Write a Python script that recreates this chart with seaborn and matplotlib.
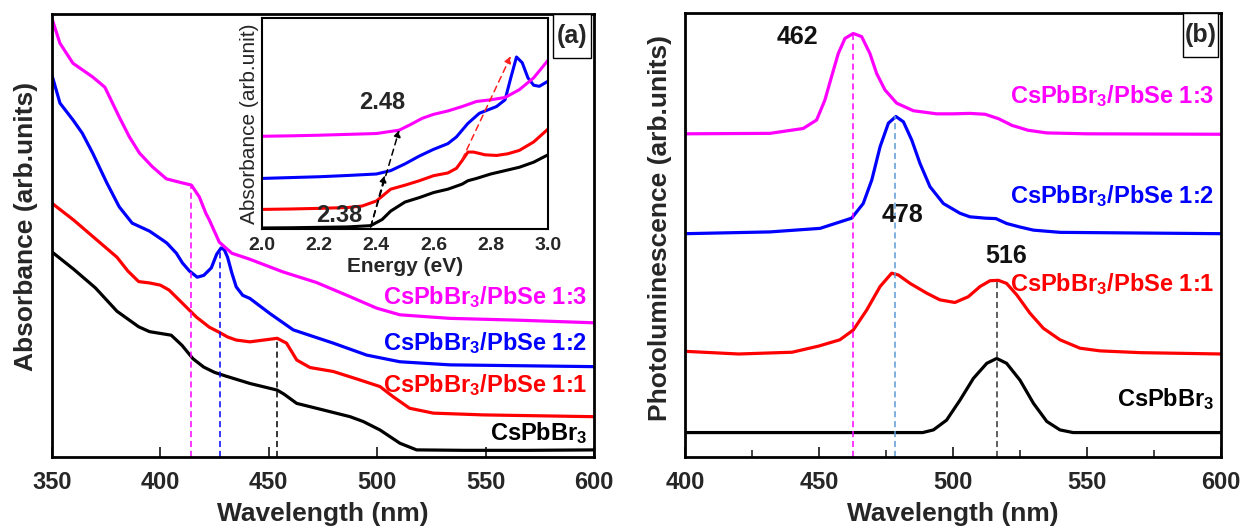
import numpy as np
import pandas as pd
import matplotlib
matplotlib.use("Agg")
import matplotlib.pyplot as plt
from matplotlib.patches import Rectangle
import seaborn as sns

# ---------------- data: panel (a) absorbance (normalised units) ----------------
abs_cs_wl = [350, 360, 370, 380, 390, 395, 400, 405, 410, 415, 420, 425, 430, 441.3, 453.9, 457,
             462.9, 472, 487.5, 493.6, 501.3, 510.5, 518.2, 540, 570, 600]
abs_cs = [0.463, 0.424, 0.382, 0.329, 0.294, 0.283, 0.279, 0.275, 0.252, 0.222, 0.203, 0.191, 0.183,
          0.166, 0.151, 0.142, 0.121, 0.110, 0.091, 0.080, 0.061, 0.031, 0.016, 0.015, 0.015, 0.016]

abs_11_wl = [350, 360, 370, 380, 385, 390, 395, 400, 404, 410, 416.6, 422.6, 427, 431, 435, 441.3,
             453.9, 458.2, 462.9, 469, 479.8, 492, 501.3, 507.4, 515, 525.9, 549, 600]
abs_11 = [0.573, 0.535, 0.493, 0.451, 0.420, 0.396, 0.393, 0.388, 0.377, 0.348, 0.316, 0.293, 0.282,
          0.271, 0.264, 0.260, 0.268, 0.257, 0.219, 0.202, 0.193, 0.174, 0.159, 0.136, 0.110, 0.099,
          0.095, 0.091]

abs_12_wl = [350, 353.7, 359.7, 364, 368.8, 375.3, 381, 387, 395, 401, 403, 407.4, 410.2, 413.4, 417,
             420, 423.5, 426, 428, 429.5, 431, 433, 435, 438, 441.3, 450.5, 461.3, 479.8, 495.2, 510.5,
             533.6, 600]
abs_12 = [0.862, 0.799, 0.761, 0.731, 0.686, 0.619, 0.565, 0.528, 0.510, 0.490, 0.483, 0.460, 0.438,
          0.420, 0.406, 0.410, 0.427, 0.458, 0.472, 0.468, 0.451, 0.415, 0.384, 0.365, 0.358, 0.324,
          0.287, 0.257, 0.230, 0.215, 0.208, 0.204]

abs_13_wl = [350, 353.7, 359.7, 368.8, 374.4, 381, 385.8, 390.4, 396.4, 402.8, 410, 414.3, 418, 421,
             422.6, 427.2, 433, 441, 456.5, 472, 487.5, 499.8, 510.5, 533.6, 564.3, 600]
abs_13 = [0.990, 0.934, 0.889, 0.858, 0.835, 0.768, 0.722, 0.686, 0.655, 0.628, 0.619, 0.614, 0.587,
          0.550, 0.535, 0.485, 0.460, 0.447, 0.418, 0.394, 0.362, 0.336, 0.321, 0.313, 0.309, 0.303]

abs_marks_wl = [414.3, 427.5, 453.9]          # dashed guide positions
abs_marks_top = [0.614, 0.472, 0.268]

# ---------------- data: inset (absorbance vs energy) ----------------
in_cs_e = [2.0, 2.1, 2.2, 2.3, 2.38, 2.42, 2.45, 2.5, 2.55, 2.6, 2.65, 2.7, 2.72, 2.75, 2.8, 2.85, 2.9, 2.95, 3.0]
in_cs = [0.005, 0.006, 0.008, 0.010, 0.016, 0.045, 0.085, 0.128, 0.149, 0.173, 0.189, 0.213, 0.229,
         0.240, 0.261, 0.277, 0.293, 0.317, 0.352]
in_11_e = [2.0, 2.1, 2.2, 2.3, 2.35, 2.4, 2.45, 2.5, 2.55, 2.6, 2.65, 2.68, 2.7, 2.72, 2.74, 2.78,
           2.82, 2.86, 2.9, 2.95, 3.0]
in_11 = [0.093, 0.095, 0.098, 0.102, 0.109, 0.133, 0.189, 0.208, 0.229, 0.253, 0.266, 0.288, 0.325,
         0.365, 0.365, 0.352, 0.349, 0.357, 0.373, 0.413, 0.474]
in_12_e = [2.0, 2.1, 2.2, 2.3, 2.4, 2.45, 2.5, 2.55, 2.6, 2.65, 2.68, 2.72, 2.76, 2.82, 2.85, 2.87,
           2.89, 2.91, 2.93, 2.95, 2.97, 3.0]
in_12 = [0.240, 0.244, 0.248, 0.254, 0.261, 0.277, 0.309, 0.346, 0.378, 0.405, 0.437, 0.501, 0.549,
         0.581, 0.613, 0.717, 0.816, 0.789, 0.717, 0.682, 0.677, 0.701]
in_13_e = [2.0, 2.1, 2.2, 2.3, 2.4, 2.48, 2.52, 2.56, 2.6, 2.65, 2.7, 2.75, 2.8, 2.85, 2.9, 2.95, 3.0]
in_13 = [0.440, 0.442, 0.445, 0.449, 0.453, 0.469, 0.496, 0.525, 0.544, 0.560, 0.581, 0.605, 0.613,
         0.624, 0.661, 0.717, 0.800]

# ---------------- data: panel (b) photoluminescence ----------------
pl_cs_wl = [400, 470, 488.7, 492.7, 497.6, 502.6, 507.6, 512.6, 516.3, 520, 525, 530, 535, 539.9,
            544.8, 600]
pl_cs = [0.055, 0.055, 0.055, 0.061, 0.083, 0.128, 0.177, 0.211, 0.222, 0.211, 0.173, 0.121, 0.080,
         0.061, 0.055, 0.055]

pl_11_wl = [400, 420, 440, 450, 457.8, 462.8, 467.8, 472.8, 477.1, 479.6, 484, 490.2, 495.1, 500.7,
            505.7, 510.1, 513.8, 516.9, 520, 523.8, 528.7, 533.7, 539.9, 547.4, 554.9, 570, 600]
pl_11 = [0.238, 0.232, 0.236, 0.250, 0.264, 0.286, 0.331, 0.384, 0.414, 0.410, 0.391, 0.369, 0.354,
         0.348, 0.361, 0.384, 0.397, 0.398, 0.391, 0.365, 0.324, 0.290, 0.264, 0.245, 0.239, 0.235,
         0.232]

pl_12_wl = [400, 431.7, 450.4, 462.2, 466.5, 469.7, 472.8, 475.9, 478.7, 481.5, 484.6, 487.7, 491.4,
            496.4, 502.6, 506.3, 512, 516, 520, 525, 530, 540, 600]
pl_12 = [0.503, 0.507, 0.515, 0.538, 0.571, 0.624, 0.699, 0.752, 0.767, 0.755, 0.714, 0.661, 0.609,
         0.571, 0.549, 0.541, 0.538, 0.537, 0.526, 0.518, 0.511, 0.506, 0.503]

pl_13_wl = [400, 431.7, 444.1, 449.1, 452.2, 454.7, 457.2, 459.7, 462.8, 465.9, 469, 471.5, 474.6, 479,
            485.2, 493.9, 500, 506.3, 512, 517, 522, 528, 535, 550, 600]
pl_13 = [0.728, 0.729, 0.740, 0.759, 0.804, 0.857, 0.909, 0.943, 0.954, 0.947, 0.909, 0.864, 0.827,
         0.797, 0.780, 0.773, 0.773, 0.774, 0.772, 0.762, 0.747, 0.736, 0.730, 0.728, 0.727]

pl_marks_wl = [462.6, 478.4, 516.5]
pl_marks_top = [0.954, 0.767, 0.398]
pl_peak_labels = ["462", "478", "516"]

series_names = ["CsPbBr$_3$", "CsPbBr$_3$/PbSe 1:1", "CsPbBr$_3$/PbSe 1:2", "CsPbBr$_3$/PbSe 1:3"]
series_colors = ["#000000", "#FF0000", "#0000FF", "#FF00FF"]

# ---------------- style ----------------
sns.set_style("white")
plt.rcParams["font.family"] = ["Liberation Sans", "DejaVu Sans"]
plt.rcParams["mathtext.fontset"] = "custom"
plt.rcParams["mathtext.rm"] = "Liberation Sans:bold"
plt.rcParams["mathtext.it"] = "Liberation Sans:bold"
plt.rcParams["mathtext.bf"] = "Liberation Sans:bold"
plt.rcParams["lines.solid_joinstyle"] = "round"
plt.rcParams["lines.solid_capstyle"] = "round"

fig = plt.figure(figsize=(12.4, 5.31), dpi=100)
axA = fig.add_axes([0.0419, 0.1394, 0.4371, 0.834])
axB = fig.add_axes([0.5524, 0.1394, 0.4323, 0.836])
axI = fig.add_axes([0.2113, 0.5687, 0.2306, 0.397])

LW = 2.3

def draw(ax, xs, ys, color, lw=LW):
    df = pd.DataFrame({"x": xs, "y": ys})
    sns.lineplot(data=df, x="x", y="y", ax=ax, color=color, lw=lw, sort=False,
                 estimator=None, legend=False)

def corner_box(ax, x0, y0, label):
    ax.add_patch(Rectangle((x0, y0), 0.995 - x0, 1.0 - y0, transform=ax.transAxes,
                           fc="white", ec="black", lw=1.0, zorder=5))
    ax.text((x0 + 0.995) / 2, (y0 + 1.0) / 2, label, transform=ax.transAxes, fontsize=18,
            fontweight="bold", ha="center", va="center", zorder=6)

# panel (a)
abs_sets = [(abs_cs_wl, abs_cs), (abs_11_wl, abs_11), (abs_12_wl, abs_12), (abs_13_wl, abs_13)]
for (xs, ys), c in zip(abs_sets, series_colors):
    draw(axA, xs, ys, c)
for wl, top, c in zip(abs_marks_wl, abs_marks_top, ["#FF00FF", "#0000FF", "#000000"]):
    axA.plot([wl, wl], [0, top], ls=(0, (4, 2.5)), color=c, lw=1.1)
axA.set_xlim(350, 600)
axA.set_ylim(0, 1)
axA.set_xticks([350, 400, 450, 500, 550, 600])
axA.set_yticks([])
axA.set_xlabel("Wavelength (nm)", fontsize=19, fontweight="bold", labelpad=6)
axA.set_ylabel("Absorbance (arb.units)", fontsize=19, fontweight="bold")
axA.yaxis.set_label_coords(-0.025, 0.52)
abs_label_y = [0.054, 0.163, 0.257, 0.362]
for name, c, y in zip(series_names, series_colors, abs_label_y):
    axA.text(597, y, name, color=c, fontsize=17, fontweight="bold", ha="right", va="center")
corner_box(axA, 0.925, 0.9, "(a)")

# inset
in_sets = [(in_cs_e, in_cs), (in_11_e, in_11), (in_12_e, in_12), (in_13_e, in_13)]
for (xs, ys), c in zip(in_sets, series_colors):
    draw(axI, xs, ys, c, lw=2.2)
axI.set_xlim(2.0, 3.0)
axI.set_ylim(0, 1)
axI.set_xticks([2.0, 2.2, 2.4, 2.6, 2.8, 3.0])
axI.set_xticklabels(["2.0", "2.2", "2.4", "2.6", "2.8", "3.0"])
axI.set_yticks([])
axI.set_xlabel("Energy (eV)", fontsize=15, fontweight="bold", labelpad=2)
axI.set_ylabel("Absorbance (arb.unit)", fontsize=15, labelpad=2)
axI.annotate("", xy=(2.48, 0.47), xytext=(2.38, 0.01),
             arrowprops=dict(arrowstyle="-|>", ls=(0, (4, 3)), color="black", lw=1.1,
                             mutation_scale=10, shrinkA=0, shrinkB=0))
axI.annotate("", xy=(2.43, 0.255), xytext=(2.38, 0.01),
             arrowprops=dict(arrowstyle="-|>", ls=(0, (4, 3)), color="black", lw=1.1,
                             mutation_scale=10, shrinkA=0, shrinkB=0))
axI.annotate("", xy=(2.87, 0.82), xytext=(2.70, 0.33),
             arrowprops=dict(arrowstyle="-|>", ls=(0, (4, 3)), color="#FF2020", lw=1.1,
                             mutation_scale=10, shrinkA=0, shrinkB=0))
axI.text(2.42, 0.60, "2.48", fontsize=17, fontweight="bold", ha="center", va="center")
axI.text(2.27, 0.065, "2.38", fontsize=17, fontweight="bold", ha="center", va="center")

# panel (b)
pl_sets = [(pl_cs_wl, pl_cs), (pl_11_wl, pl_11), (pl_12_wl, pl_12), (pl_13_wl, pl_13)]
for (xs, ys), c in zip(pl_sets, series_colors):
    draw(axB, xs, ys, c)
for wl, top, c in zip(pl_marks_wl, pl_marks_top, ["#FF00FF", "#5B9BD5", "#333333"]):
    axB.plot([wl, wl], [0, top], ls=(0, (4, 2.5)), color=c, lw=1.1)
axB.set_xlim(400, 600)
axB.set_ylim(0, 1)
axB.set_xticks([400, 450, 500, 550, 600])
axB.set_xticks([425, 475, 525, 575], minor=True)
axB.set_yticks([])
axB.set_xlabel("Wavelength (nm)", fontsize=19, fontweight="bold", labelpad=6)
axB.set_ylabel("Photoluminescence (arb.units)", fontsize=19, fontweight="bold")
axB.yaxis.set_label_coords(-0.024, 0.515)
pl_label_y = [0.130, 0.389, 0.587, 0.812]
for name, c, y in zip(series_names, series_colors, pl_label_y):
    axB.text(597.5, y, name, color=c, fontsize=17, fontweight="bold", ha="right", va="center")
for lab, x, y in zip(pl_peak_labels, [442, 481, 520], [0.945, 0.545, 0.453]):
    axB.text(x, y, lab, fontsize=18, fontweight="bold", ha="center", va="center", color="#111111")
corner_box(axB, 0.929, 0.901, "(b)")

for ax in (axA, axB):
    for s in ax.spines.values():
        s.set_linewidth(2.0)
        s.set_color("black")
    ax.tick_params(axis="x", which="major", direction="in", length=7, width=1.3,
                   labelsize=17, pad=10, bottom=True)
    ax.tick_params(axis="x", which="minor", direction="in", length=5, width=1.2, bottom=True)
    for t in ax.get_xticklabels():
        t.set_fontweight("bold")
for s in axI.spines.values():
    s.set_linewidth(1.5)
    s.set_color("black")
axI.tick_params(axis="x", direction="in", length=0, labelsize=14, pad=6)
for t in axI.get_xticklabels():
    t.set_fontweight("bold")
axI.set_facecolor("white")

fig.savefig("out.png", dpi=100)
